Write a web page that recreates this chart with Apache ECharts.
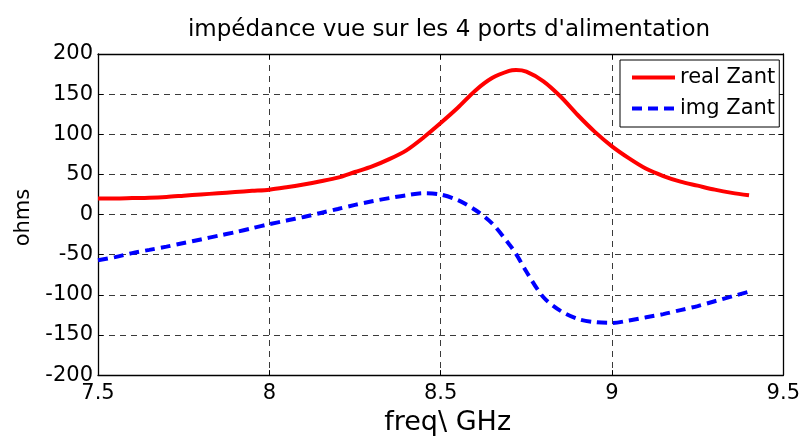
<!DOCTYPE html>
<html>
<head>
<meta charset="utf-8">
<script src="https://cdn.jsdelivr.net/npm/echarts@6/dist/echarts.min.js"></script>
<style>
  html, body { margin: 0; padding: 0; background: #fff; width: 803px; height: 441px; overflow: hidden; }
  #chart { width: 803px; height: 441px; }
</style>
</head>
<body>
<div id="chart"></div>
<script>
// Frequency samples (GHz)
const freq = [7.5, 7.55, 7.6, 7.65, 7.7, 7.75, 7.8, 7.85, 7.9, 7.95,
              8.0, 8.05, 8.1, 8.15, 8.2, 8.25, 8.3, 8.35, 8.4, 8.45,
              8.5, 8.55, 8.6, 8.65, 8.7, 8.72, 8.75, 8.8, 8.85, 8.9,
              8.95, 9.0, 9.05, 9.1, 9.15, 9.2, 9.25, 9.3, 9.35, 9.4];

// Real part of the antenna impedance (ohms)
const realZant = [20, 20, 20.5, 21, 22, 23.5, 25, 26.5, 28, 29.5,
                  31, 34, 37.5, 41.5, 46, 53, 60, 69, 80, 96,
                  114, 133, 154, 170, 179, 180, 178, 166, 147, 124,
                  103, 85, 70, 57, 48, 41, 36, 31, 27, 24];

// Imaginary part of the antenna impedance (ohms)
const imgZant = [-57, -53, -48, -44, -40, -35.5, -31, -26.5, -22, -17,
                 -12, -7.5, -3, 2, 7, 12, 16.5, 20.5, 24, 26.5,
                 25, 18, 6, -11, -37, -49, -71, -103, -120, -130,
                 -134, -135, -132, -128, -124, -119, -114, -108, -102, -96];

const xTicks = [7.5, 8, 8.5, 9, 9.5];
const yTicks = [-200, -150, -100, -50, 0, 50, 100, 150, 200];

const FONT = 'DejaVu Sans, Liberation Sans, sans-serif';
const pair = (xs, ys) => xs.map((x, i) => [x, ys[i]]);

const gridLine = { show: true, lineStyle: { color: '#3a3a3a', width: 1, type: [6, 5] } };
const boxLine = { show: true, onZero: false, lineStyle: { color: '#000', width: 1.3 } };
const tickIn = { show: true, inside: true, length: 5, lineStyle: { color: '#000', width: 1 } };

const chart = echarts.init(document.getElementById('chart'), null, { renderer: 'canvas', width: 803, height: 441 });
chart.setOption({
  animation: false,
  backgroundColor: '#fff',
  textStyle: { fontFamily: FONT },
  title: {
    text: "impédance vue sur les 4 ports d'alimentation",
    left: 444, top: 14, textAlign: 'center',
    textStyle: { fontFamily: FONT, fontSize: 23, fontWeight: 'normal', color: '#000' }
  },
  grid: { left: 98, right: 19, top: 54, bottom: 51, containLabel: false },
  legend: {
    orient: 'vertical',
    left: 620, top: 60,
    padding: [7, 4, 8, 10],
    itemGap: 10,
    itemWidth: 43, itemHeight: 20,
    backgroundColor: '#fff',
    borderColor: '#000', borderWidth: 1, borderRadius: 0,
    itemStyle: { opacity: 0 },
    lineStyle: { width: 4 },
    textStyle: { fontFamily: FONT, fontSize: 21, color: '#000' },
    data: ['real Zant', 'img Zant']
  },
  xAxis: [{
    type: 'value', min: 7.5, max: 9.5, interval: 0.5,
    name: 'freq\\ GHz', nameLocation: 'middle', nameGap: 23,
    nameTextStyle: { fontFamily: FONT, fontSize: 27, color: '#000', padding: [0, 0, 0, 14] },
    axisLine: boxLine, axisTick: tickIn,
    axisLabel: { fontFamily: FONT, fontSize: 21, color: '#000', margin: 8,
                 formatter: v => xTicks.includes(v) ? String(v) : '' },
    splitLine: gridLine
  }, {
    type: 'value', min: 7.5, max: 9.5, interval: 0.5, position: 'top',
    axisLine: boxLine, axisTick: tickIn, axisLabel: { show: false }, splitLine: { show: false }
  }],
  yAxis: [{
    type: 'value', min: -200, max: 200, interval: 50,
    name: 'ohms', nameLocation: 'middle', nameGap: 62, nameRotate: 90,
    nameTextStyle: { fontFamily: FONT, fontSize: 21, color: '#000', padding: [0, 6, 0, 0] },
    axisLine: boxLine, axisTick: tickIn,
    axisLabel: { fontFamily: FONT, fontSize: 21, color: '#000', margin: 5,
                 formatter: v => yTicks.includes(v) ? String(v) : '' },
    splitLine: gridLine
  }, {
    type: 'value', min: -200, max: 200, interval: 50, position: 'right',
    axisLine: boxLine, axisTick: tickIn, axisLabel: { show: false }, splitLine: { show: false }
  }],
  series: [{
    name: 'real Zant', type: 'line', data: pair(freq, realZant),
    smooth: 0.3, symbol: 'none', z: 3,
    lineStyle: { color: '#ff0000', width: 4 },
    itemStyle: { color: '#ff0000' }
  }, {
    name: 'img Zant', type: 'line', data: pair(freq, imgZant),
    smooth: 0.3, symbol: 'none', z: 3,
    lineStyle: { color: '#0000ff', width: 4, type: [10, 6] },
    itemStyle: { color: '#0000ff' }
  }]
});
</script>
</body>
</html>
